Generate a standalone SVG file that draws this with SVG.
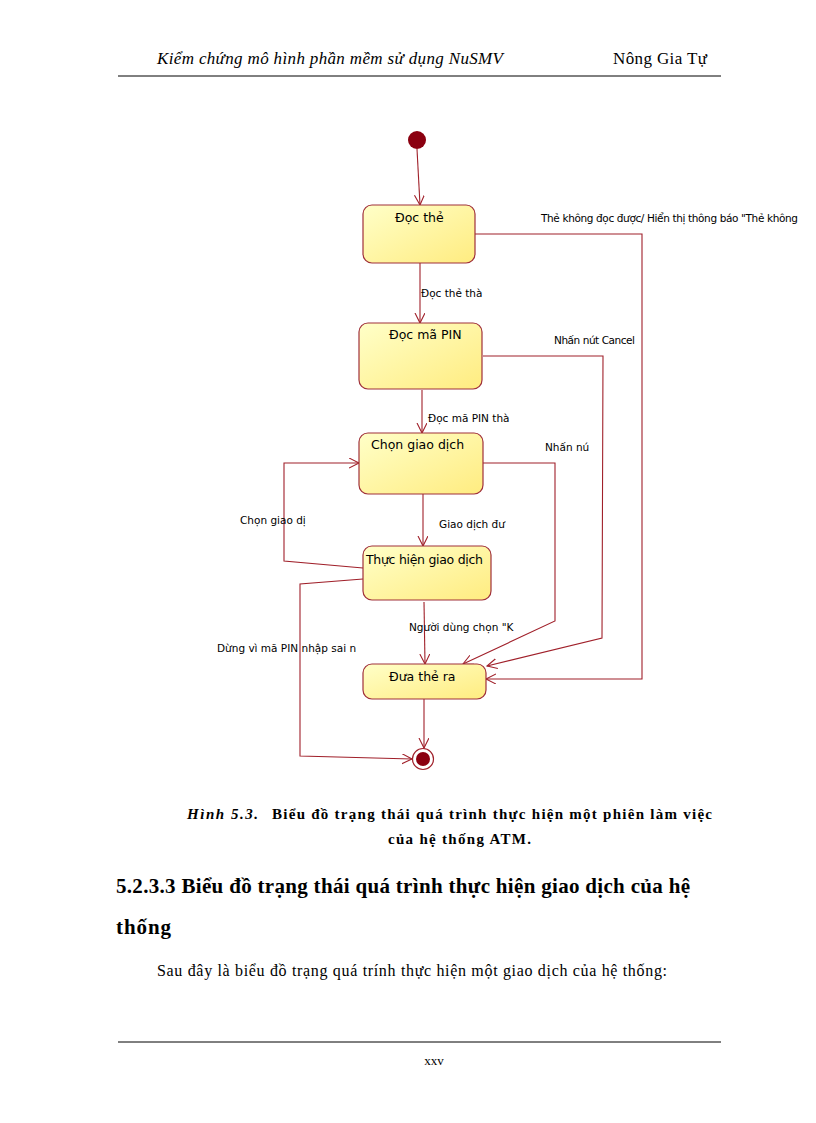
<svg xmlns="http://www.w3.org/2000/svg" width="816" height="1123" viewBox="0 0 816 1123">
<defs>
<style>
.st{stroke:#a0303a;stroke-width:1.2}
.sl{font-family:"DejaVu Sans",sans-serif;font-size:12.5px;fill:#000}
.cl{font-family:"DejaVu Sans",sans-serif;font-size:10.5px;fill:#000}
.c{fill:none;stroke:#a0202a;stroke-width:1.1}
.pg{font-family:"Liberation Serif",serif;fill:#000}
</style>
<linearGradient id="g" x1="0" y1="0" x2="1" y2="1"><stop offset="0" stop-color="#ffffc8"/><stop offset="1" stop-color="#ffec80"/></linearGradient>
<marker id="a" markerWidth="12" markerHeight="12" refX="10" refY="5" orient="auto" markerUnits="userSpaceOnUse"><path d="M0,0 L10,5 L0,10" fill="none" stroke="#a0202a" stroke-width="1.1"/></marker>
</defs>
<rect width="816" height="1123" fill="#fff"/>
<text class="pg" x="157" y="64" font-size="17" font-style="italic" textLength="346">Kiểm chứng mô hình phần mềm sử dụng NuSMV</text>
<text class="pg" x="613" y="64" font-size="17" textLength="94">Nông Gia Tự</text>
<line x1="118" y1="76" x2="721" y2="76" stroke="#000"/>
<g id="connectors">
<path class="c" d="M417,149 L420,205" marker-end="url(#a)"/>
<path class="c" d="M475,234 L642,234 L642,679 L486,679" marker-end="url(#a)"/>
<path class="c" d="M420,263 L420,323" marker-end="url(#a)"/>
<path class="c" d="M483,356 L603,356 L602,638 L487,666" marker-end="url(#a)"/>
<path class="c" d="M422,390 L422,433" marker-end="url(#a)"/>
<path class="c" d="M483,463 L555,463 L555,621 L463,664" marker-end="url(#a)"/>
<path class="c" d="M423,494 L423,546" marker-end="url(#a)"/>
<path class="c" d="M363,568 L284,561 L284,463 L359,463" marker-end="url(#a)"/>
<path class="c" d="M363,579 L300,584 L300,756 L412,759" marker-end="url(#a)"/>
<path class="c" d="M424,602 L425,664" marker-end="url(#a)"/>
<path class="c" d="M424,699 L424,748" marker-end="url(#a)"/>
<text class="cl" x="541" y="222" textLength="257">Thẻ không đọc được/ Hiển thị thông báo "Thẻ không</text>
<text class="cl" x="421" y="297">Đọc thẻ thà</text>
<text class="cl" x="554" y="344" textLength="81">Nhấn nút Cancel</text>
<text class="cl" x="428" y="422">Đọc mã PIN thà</text>
<text class="cl" x="545" y="451">Nhấn nú</text>
<text class="cl" x="240" y="524">Chọn giao dị</text>
<text class="cl" x="439" y="528">Giao dịch đư</text>
<text class="cl" x="409" y="631">Người dùng chọn "K</text>
<text class="cl" x="217" y="652">Dừng vì mã PIN nhập sai n</text>
</g>
<g id="init"><circle cx="417" cy="140" r="9" fill="#8b0010"/></g>
<g id="docthe"><rect class="st" x="363" y="205" width="112" height="58" rx="9" fill="url(#g)"/><text class="sl" x="395" y="222">Đọc thẻ</text></g>
<g id="docpin"><rect class="st" x="359" y="323" width="123" height="66" rx="9" fill="url(#g)"/><text class="sl" x="389" y="339">Đọc mã PIN</text></g>
<g id="chon"><rect class="st" x="359" y="433" width="124" height="61" rx="9" fill="url(#g)"/><text class="sl" x="371" y="449">Chọn giao dịch</text></g>
<g id="thuchien"><rect class="st" x="363" y="546" width="128" height="54" rx="9" fill="url(#g)"/><text class="sl" x="366" y="564" textLength="117">Thực hiện giao dịch</text></g>
<g id="duathe"><rect class="st" x="363" y="664" width="123" height="35" rx="9" fill="url(#g)"/><text class="sl" x="389" y="681">Đưa  thẻ ra</text></g>
<g id="final"><circle cx="423" cy="759" r="10.5" fill="#fff" stroke="#a0202a" stroke-width="1.2"/><circle cx="423" cy="759" r="7" fill="#8b0010"/></g>
<text class="pg" x="187" y="819" font-size="15" font-weight="bold" font-style="italic" textLength="71">Hình  5.3.</text>
<text class="pg" x="272" y="819" font-size="15" font-weight="bold" textLength="440">Biểu đồ trạng thái quá trình thực hiện một phiên làm việc</text>
<text class="pg" x="388" y="844" font-size="15" font-weight="bold" textLength="143">của hệ thống ATM.</text>
<text class="pg" x="116" y="893" font-size="21" font-weight="bold" textLength="574">5.2.3.3 Biểu đồ trạng thái quá trình thực hiện giao dịch của hệ</text>
<text class="pg" x="116" y="934" font-size="21" font-weight="bold" textLength="55">thống</text>
<text class="pg" x="157" y="976" font-size="16" textLength="510">Sau đây là biểu đồ trạng quá trính thực hiện một giao dịch của hệ thống:</text>
<line x1="118" y1="1042" x2="721" y2="1042" stroke="#000"/>
<text class="pg" x="434" y="1065" font-size="13" text-anchor="middle">xxv</text>
</svg>
